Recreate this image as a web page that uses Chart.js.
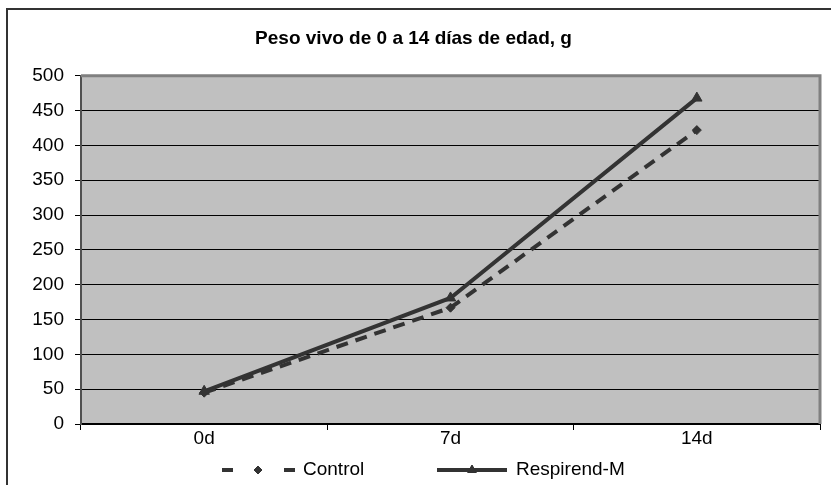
<!DOCTYPE html>
<html>
<head>
<meta charset="utf-8">
<script src="https://cdn.jsdelivr.net/npm/chart.js@4.4.1/dist/chart.umd.min.js"></script>
<style>
    html, body { margin: 0; padding: 0; background: #fff; }
    #wrap { width: 831px; height: 485px; }
</style>
</head>
<body>
<div id="wrap"><canvas id="chart" width="831" height="485"></canvas></div>
<script>
// datos
const labels = ['0d', '7d', '14d'];
const control = [45, 167, 422];
const respirend = [47, 181, 468];
const yMin = 0, yMax = 500, yStep = 50;

const FONT = "'Liberation Sans', Arial, sans-serif";
const LINE = '#333333';

// fondo gris del área de trazado + marco exterior
const plotBg = {
    id: 'plotBg',
    beforeDraw(chart) {
        const { ctx, chartArea: a } = chart;
        ctx.save();
        ctx.fillStyle = '#C0C0C0';
        ctx.fillRect(a.left, a.top, a.right - a.left, a.bottom - a.top);
        ctx.strokeStyle = '#333';
        ctx.lineWidth = 2;
        ctx.strokeRect(7, 9, 860, 520);
        ctx.restore();
    },
    beforeDatasetsDraw(chart) {
        const { ctx, chartArea: a } = chart;
        ctx.save();
        ctx.strokeStyle = '#808080';
        ctx.lineWidth = 3;
        ctx.beginPath();
        ctx.moveTo(a.left, a.top);
        ctx.lineTo(a.right, a.top);
        ctx.lineTo(a.right, a.bottom);
        ctx.stroke();
        ctx.restore();
    }
};

// leyenda estilo Excel (línea + marcador)
const excelLegend = {
    id: 'excelLegend',
    afterDraw(chart) {
        const ctx = chart.ctx;
        const y = 470;
        ctx.save();
        ctx.strokeStyle = LINE;
        ctx.fillStyle = LINE;
        ctx.lineWidth = 4;
        // Control
        ctx.beginPath();
        ctx.moveTo(222, y); ctx.lineTo(233, y);
        ctx.moveTo(284, y); ctx.lineTo(295, y);
        ctx.stroke();
        ctx.lineWidth = 1;
        Chart.helpers.drawPoint(ctx, { pointStyle: 'rectRot', radius: 4, borderWidth: 1 }, 258, y);
        ctx.fill();
        // Respirend-M
        ctx.lineWidth = 4;
        ctx.beginPath();
        ctx.moveTo(437, y); ctx.lineTo(507, y);
        ctx.stroke();
        ctx.lineWidth = 1;
        Chart.helpers.drawPoint(ctx, { pointStyle: 'triangle', radius: 5, borderWidth: 1 }, 472, y);
        ctx.fill();
        ctx.fillStyle = '#000';
        ctx.font = '19px ' + FONT;
        ctx.textBaseline = 'middle';
        ctx.fillText('Control', 303, y);
        ctx.fillText('Respirend-M', 516, y);
        ctx.restore();
    }
};

new Chart(document.getElementById('chart'), {
    type: 'line',
    data: {
        labels: labels,
        datasets: [{
            label: 'Control',
            data: control,
            borderColor: LINE,
            backgroundColor: LINE,
            borderWidth: 4,
            borderDash: [12, 8],
            pointStyle: 'rectRot',
            pointRadius: 4.5,
            pointBorderWidth: 1,
            tension: 0
        }, {
            label: 'Respirend-M',
            data: respirend,
            borderColor: LINE,
            backgroundColor: LINE,
            borderWidth: 4,
            pointStyle: 'triangle',
            pointRadius: 6,
            pointBorderWidth: 1,
            tension: 0
        }]
    },
    options: {
        responsive: false,
        animation: false,
        devicePixelRatio: 1,
        layout: { padding: { left: 7, right: 11, top: 0, bottom: 31 } },
        plugins: {
            legend: { display: false },
            tooltip: { enabled: false },
            title: {
                display: true,
                text: 'Peso vivo de 0 a 14 días de edad, g',
                color: '#000',
                font: { family: FONT, size: 19, weight: 'bold' },
                padding: { top: 27, bottom: 26 }
            }
        },
        scales: {
            x: {
                offset: true,
                grid: { offset: true, drawOnChartArea: false, tickLength: 6, color: '#000', lineWidth: 1 },
                border: { color: '#000', width: 2 },
                ticks: { color: '#000', padding: -3, font: { family: FONT, size: 19 } },
                afterFit(scale) { scale.height = 30; }
            },
            y: {
                min: yMin,
                max: yMax,
                grid: { color: '#000', lineWidth: 1, tickLength: 6 },
                border: { color: '#505050', width: 2 },
                ticks: { stepSize: yStep, color: '#000', padding: 11, font: { family: FONT, size: 19 } },
                afterFit(scale) { scale.width = 74; scale.paddingTop = 0; scale.paddingBottom = 0; }
            }
        }
    },
    plugins: [plotBg, excelLegend]
});
</script>
</body>
</html>
